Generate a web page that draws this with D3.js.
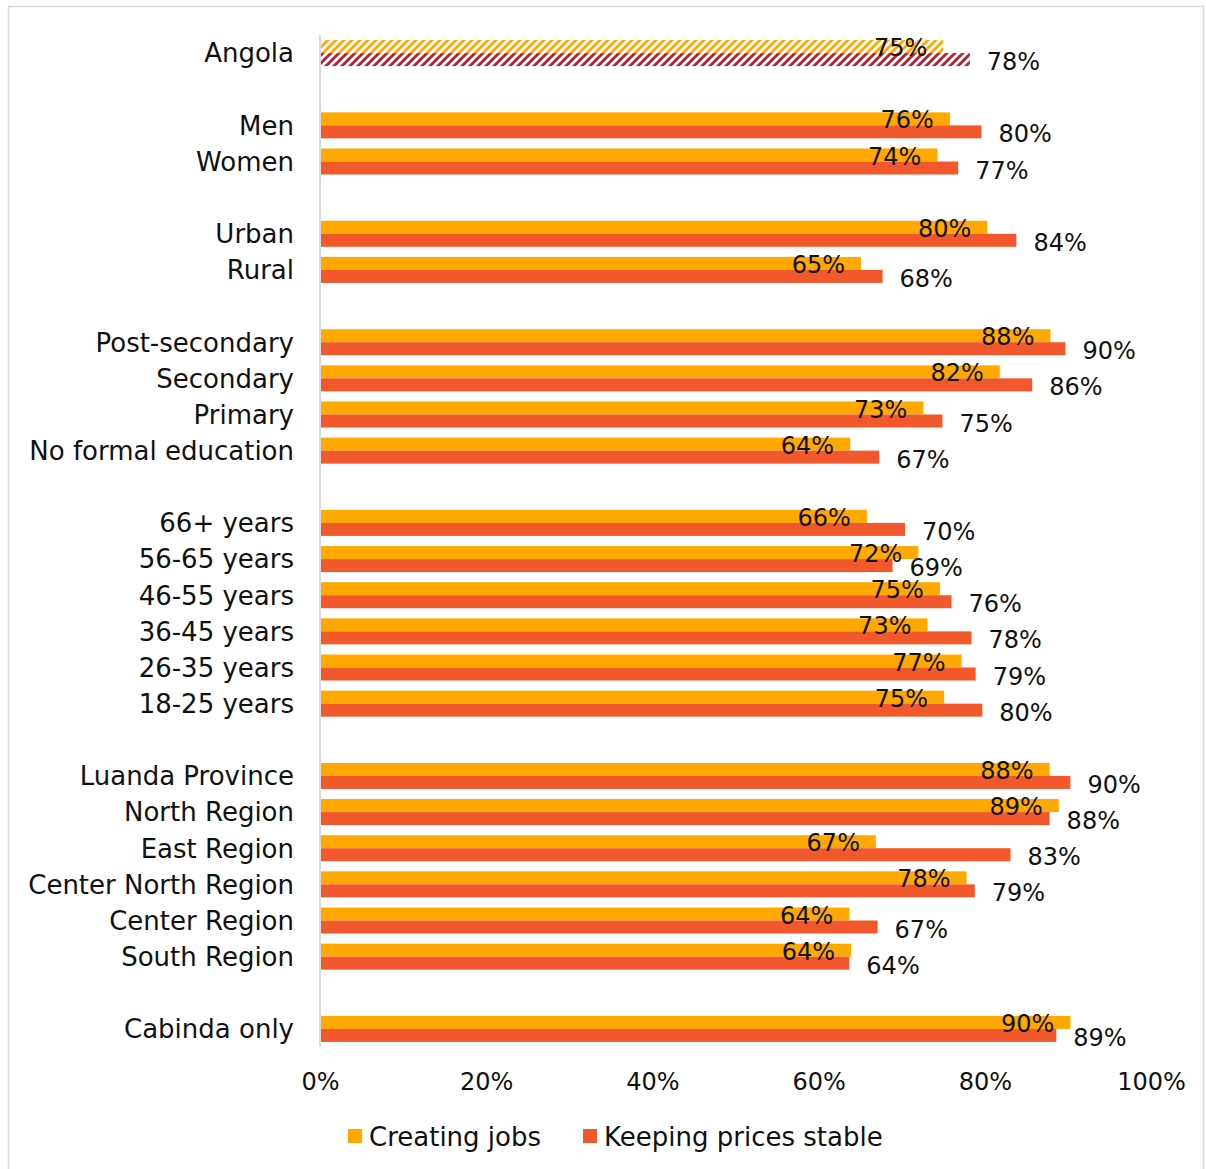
<!DOCTYPE html>
<html>
<head>
<meta charset="utf-8">
<script src="https://cdn.jsdelivr.net/npm/d3@7"></script>
<style>
  body { margin: 0; background: #fff; }
  text { font-family: "DejaVu Sans", sans-serif; fill: #111; }
</style>
</head>
<body>
<svg id="plot"></svg>
<script>
var categories = ["Angola",
  "Men", "Women",
  "Urban", "Rural",
  "Post-secondary", "Secondary", "Primary", "No formal education",
  "66+ years", "56-65 years", "46-55 years", "36-45 years", "26-35 years", "18-25 years",
  "Luanda Province", "North Region", "East Region", "Center North Region", "Center Region", "South Region",
  "Cabinda only"];
// index of the last category of each group (a blank row follows it)
var groupEnds = [0, 2, 4, 8, 14, 20];
var creatingJobs = [75.0,
  75.8, 74.3,
  80.3, 65.1,
  87.9, 81.8, 72.6, 63.8,
  65.8, 72.0, 74.6, 73.1, 77.2, 75.1,
  87.8, 88.9, 66.9, 77.8, 63.7, 63.9,
  90.3];
var keepingPrices = [78.2,
  79.6, 76.8,
  83.8, 67.7,
  89.7, 85.7, 74.9, 67.3,
  70.4, 68.9, 76.0, 78.4, 78.9, 79.7,
  90.3, 87.8, 83.1, 78.8, 67.1, 63.7,
  88.6];
var xTicks = [0, 20, 40, 60, 80, 100];
var seriesNames = ["Creating jobs", "Keeping prices stable"];

var width = 1206, height = 1169;
var colJobs = "#FFA800", colPrices = "#F1592C", colHatchRed = "#B3263A";

var svg = d3.select("#plot").attr("width", width).attr("height", height);

// chart frame
svg.append("rect")
  .attr("x", 8.5).attr("y", 6.5)
  .attr("width", 1195).attr("height", 1175)
  .attr("fill", "none").attr("stroke", "#d9d9d9").attr("stroke-width", 1.5);

// hatch patterns for the country total
var defs = svg.append("defs");
function hatch(id, color) {
  var p = defs.append("pattern")
    .attr("id", id).attr("patternUnits", "userSpaceOnUse")
    .attr("width", 8).attr("height", 8);
  p.append("rect").attr("width", 8).attr("height", 8).attr("fill", "#fff");
  p.append("path")
    .attr("d", "M-2,2 L2,-2 M0,8 L8,0 M6,10 L10,6")
    .attr("stroke", color).attr("stroke-width", 3);
}
hatch("hatchJobs", colJobs);
hatch("hatchPrices", colHatchRed);

// rows, with a blank row after each group
var rows = [];
categories.forEach(function(c, i) {
  rows.push({key: "c" + i, name: c, jobs: creatingJobs[i], prices: keepingPrices[i], idx: i});
  if (groupEnds.indexOf(i) >= 0) rows.push({key: "gap" + i, blank: true});
});

var xScale = d3.scaleLinear().domain([0, 100]).range([320, 1151]);
var yScale = d3.scaleBand().domain(rows.map(d => d.key)).range([35, 1047]).padding(0);

var barH = 13;
var data = rows.filter(d => !d.blank);
var fmt = v => Math.round(v) + "%";

var g = svg.append("g");

g.selectAll("rect.jobs").data(data).enter().append("rect")
  .attr("class", "jobs")
  .attr("x", xScale(0))
  .attr("y", d => yScale(d.key) + yScale.bandwidth() / 2 - barH)
  .attr("width", d => xScale(d.jobs) - xScale(0))
  .attr("height", barH)
  .attr("fill", d => d.idx === 0 ? "url(#hatchJobs)" : colJobs);

g.selectAll("rect.prices").data(data).enter().append("rect")
  .attr("class", "prices")
  .attr("x", xScale(0))
  .attr("y", d => yScale(d.key) + yScale.bandwidth() / 2)
  .attr("width", d => xScale(d.prices) - xScale(0))
  .attr("height", barH)
  .attr("fill", d => d.idx === 0 ? "url(#hatchPrices)" : colPrices);

// vertical axis line
svg.append("line")
  .attr("x1", xScale(0)).attr("x2", xScale(0))
  .attr("y1", 35).attr("y2", 1047)
  .attr("stroke", "#d9d9d9").attr("stroke-width", 2);

// category labels
g.selectAll("text.cat").data(data).enter().append("text")
  .attr("class", "cat")
  .attr("x", xScale(0) - 26)
  .attr("y", d => yScale(d.key) + yScale.bandwidth() / 2)
  .attr("dy", "0.36em")
  .attr("text-anchor", "end")
  .attr("font-size", 26)
  .text(d => d.name);

// value labels
g.selectAll("text.vjobs").data(data).enter().append("text")
  .attr("class", "vjobs")
  .attr("x", d => xScale(d.jobs) - 16)
  .attr("y", d => yScale(d.key) + yScale.bandwidth() / 2 - barH / 2 + 1)
  .attr("dy", "0.36em")
  .attr("text-anchor", "end")
  .attr("font-size", 24)
  .text(d => fmt(d.jobs));

g.selectAll("text.vprices").data(data).enter().append("text")
  .attr("class", "vprices")
  .attr("x", d => xScale(d.prices) + 17)
  .attr("y", d => yScale(d.key) + yScale.bandwidth() / 2 + barH / 2 + 2)
  .attr("dy", "0.36em")
  .attr("text-anchor", "start")
  .attr("font-size", 24)
  .text(d => fmt(d.prices));

// x axis (labels only)
var xAxis = d3.axisBottom(xScale).tickValues(xTicks).tickFormat(d => d + "%").tickSize(0).tickPadding(0);
var gX = svg.append("g").attr("transform", "translate(0,1081)").call(xAxis);
gX.select(".domain").remove();
gX.selectAll("text")
  .attr("font-size", 24)
  .attr("font-family", "DejaVu Sans, sans-serif")
  .attr("fill", "#111")
  .attr("dy", "0.36em");

// legend
var legend = svg.append("g");
var legendItems = [
  {name: seriesNames[0], color: colJobs, x: 348, tx: 369},
  {name: seriesNames[1], color: colPrices, x: 583, tx: 604}
];
legendItems.forEach(function(it) {
  legend.append("rect")
    .attr("x", it.x).attr("y", 1129)
    .attr("width", 14).attr("height", 14)
    .attr("fill", it.color);
  legend.append("text")
    .attr("x", it.tx).attr("y", 1137)
    .attr("dy", "0.36em")
    .attr("font-size", 26)
    .text(it.name);
});
</script>
</body>
</html>
